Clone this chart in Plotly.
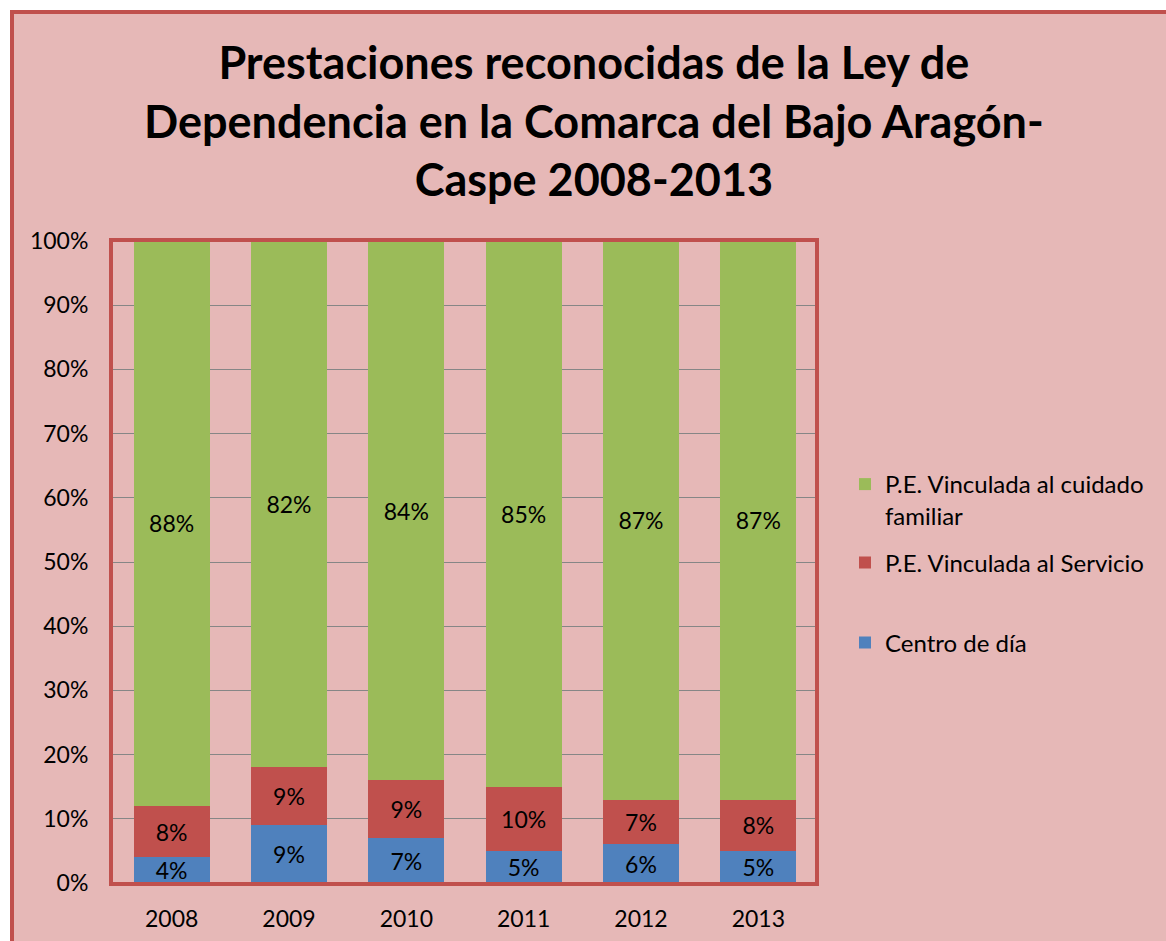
import plotly.graph_objects as go

years = ["2008", "2009", "2010", "2011", "2012", "2013"]
centro_dia = [4, 9, 7, 5, 6, 5]
pe_servicio = [8, 9, 9, 10, 7, 8]
pe_familiar = [88, 82, 84, 85, 87, 87]
y_ticks = [0, 10, 20, 30, 40, 50, 60, 70, 80, 90, 100]
y_tick_labels = [f"{v}%" for v in y_ticks]

BG = "#E6B8B7"
RED = "#C0504D"
FONT = "Lato, Calibri, Carlito, sans-serif"

W, H = 1166, 941
L, R, T, B = 113, 817, 241, 883
pw, ph = R - L, B - T

def px(x):
    return (x - L) / pw

def py(y):
    return (B - y) / ph

fig = go.Figure()
series = [
    ("Centro de día", centro_dia, "#4F81BD", "legend3", 643),
    ("P.E. Vinculada al Servicio", pe_servicio, RED, "legend2", 563),
    ("P.E. Vinculada al cuidado<br>familiar", pe_familiar, "#9BBB59", "legend", 500),
]
for name, vals, col, leg, _ in series:
    fig.add_trace(go.Bar(
        x=years, y=vals, name=name, marker=dict(color=col, line=dict(width=0)),
        text=[f"{v}%" for v in vals], textposition="inside",
        insidetextanchor="middle", textangle=0,
        textfont=dict(family=FONT, size=23, color="black"),
        legend=leg, showlegend=True,
    ))

legend_common = dict(
    x=px(845), xanchor="left", yanchor="middle",
    font=dict(family=FONT, size=24, color="black"),
    bgcolor="rgba(0,0,0,0)", valign="top", itemwidth=30,
)
legends = {}
for name, vals, col, leg, ypix in series:
    legends[leg] = dict(legend_common, y=py(ypix))

fig.update_layout(
    width=W, height=H,
    margin=dict(l=L, r=W - R, t=T, b=H - B, pad=0, autoexpand=False),
    showlegend=True,
    barmode="stack", bargap=0.35,
    paper_bgcolor="white", plot_bgcolor=BG,
    font=dict(family=FONT, size=23, color="black"),
    uniformtext=dict(minsize=23, mode="show"),
    xaxis=dict(showgrid=False, showline=True, linecolor="#868686", linewidth=1,
               ticks="", ticklabelstandoff=15, tickfont=dict(size=23),
               automargin=False),
    yaxis=dict(range=[0, 100], tickmode="array", tickvals=y_ticks,
               ticktext=y_tick_labels,
               showgrid=True, gridcolor="#868686", gridwidth=1,
               showline=True, linecolor="#868686", linewidth=1,
               ticks="", ticklabelstandoff=19, tickfont=dict(size=23),
               zeroline=False, automargin=False),
    annotations=[dict(
        text="<b>Prestaciones reconocidas de la Ley de<br>Dependencia en la Comarca del Bajo Aragón-<br>Caspe 2008-2013</b>",
        xref="paper", yref="paper", x=px(594), y=py(120),
        xanchor="center", yanchor="middle", showarrow=False,
        font=dict(family=FONT, size=45, color="black"), align="center",
    )],
    shapes=[
        dict(type="rect", xref="paper", yref="paper", layer="below",
             x0=px(12), x1=px(1180), y0=py(955), y1=py(12),
             fillcolor=BG, line=dict(color=RED, width=4)),
        dict(type="rect", xref="paper", yref="paper", layer="above",
             x0=px(111), x1=px(817), y0=py(884), y1=py(240),
             fillcolor="rgba(0,0,0,0)", line=dict(color=RED, width=4)),
    ],
    **legends,
)

fig.write_html("out.html", config={"displayModeBar": False},
               post_script="document.body.style.margin='0px';")
